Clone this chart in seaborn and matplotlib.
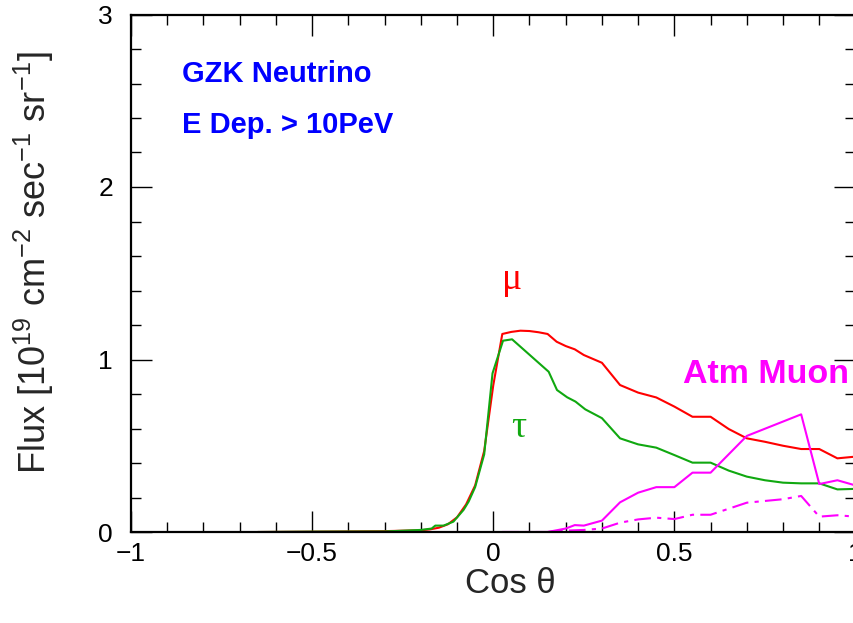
import numpy as np
import pandas as pd
import matplotlib
matplotlib.use("Agg")
import matplotlib.pyplot as plt
from matplotlib.ticker import MultipleLocator, FixedLocator, FixedFormatter
import seaborn as sns

# ---- data ----
mu_x = [-0.65, -0.5, -0.3, -0.2, -0.175, -0.15, -0.125, -0.1, -0.075, -0.05, -0.025, 0.0,
        0.025, 0.05, 0.075, 0.1, 0.125, 0.15, 0.175, 0.2, 0.225, 0.25, 0.3, 0.35, 0.4,
        0.45, 0.5, 0.55, 0.6, 0.65, 0.7, 0.75, 0.8, 0.85, 0.9, 0.95, 1.0]
mu_y = [0.0, 0.002, 0.005, 0.01, 0.015, 0.025, 0.045, 0.085, 0.16, 0.27, 0.47, 0.85,
        1.148, 1.16, 1.167, 1.165, 1.158, 1.148, 1.103, 1.078, 1.059, 1.026, 0.981, 0.852, 0.808,
        0.78, 0.727, 0.668, 0.668, 0.597, 0.543, 0.523, 0.50, 0.481, 0.481, 0.427, 0.437]

tau_x = [-0.65, -0.5, -0.3, -0.2, -0.17, -0.16, -0.137, -0.11, -0.082, -0.068, -0.05, -0.025,
         -0.002, 0.027, 0.052, 0.153, 0.176, 0.204, 0.227, 0.254, 0.3, 0.35, 0.4, 0.45, 0.5,
         0.55, 0.6, 0.65, 0.7, 0.75, 0.8, 0.85, 0.9, 0.95, 1.0]
tau_y = [0.0, 0.002, 0.003, 0.012, 0.02, 0.037, 0.037, 0.06, 0.128, 0.176, 0.26, 0.45,
         0.92, 1.109, 1.117, 0.929, 0.823, 0.781, 0.756, 0.711, 0.66, 0.543, 0.508, 0.489, 0.446,
         0.402, 0.402, 0.356, 0.321, 0.30, 0.286, 0.282, 0.282, 0.247, 0.25]

atm_x = [0.025, 0.15, 0.2, 0.225, 0.25, 0.3, 0.35, 0.4, 0.45, 0.5, 0.55, 0.6, 0.7, 0.85,
         0.9, 0.95, 1.0]
atm_y = [0.0, 0.0, 0.02, 0.04, 0.037, 0.066, 0.172, 0.228, 0.26, 0.26, 0.344, 0.344, 0.557, 0.682,
         0.278, 0.30, 0.27]

atm2_x = [0.025, 0.15, 0.2, 0.25, 0.3, 0.35, 0.4, 0.45, 0.5, 0.55, 0.6, 0.7, 0.75, 0.8, 0.85,
          0.9, 0.95, 1.0]
atm2_y = [0.0, 0.0, 0.008, 0.012, 0.02, 0.054, 0.073, 0.083, 0.075, 0.10, 0.10, 0.17, 0.18, 0.19,
          0.209, 0.089, 0.097, 0.089]

x_major = [-1, -0.5, 0, 0.5, 1]
x_labels = ["\u22121", "\u22120.5", "0", "0.5", "1"]
y_major = [0, 1, 2, 3]
y_labels = ["0", "1", "2", "3"]

# ---- style ----
sns.set_theme(style="ticks")
plt.rcParams["font.family"] = ["Liberation Sans", "DejaVu Sans"]
plt.rcParams["mathtext.fontset"] = "custom"
plt.rcParams["mathtext.rm"] = "Liberation Sans"
plt.rcParams["mathtext.it"] = "Liberation Sans:italic"
plt.rcParams["mathtext.bf"] = "Liberation Sans:bold"
plt.rcParams["xtick.labelsize"] = 19
plt.rcParams["ytick.labelsize"] = 19

RED = "#ff0000"
GREEN = "#10a810"
MAG = "#ff00ff"
BLUE = "#0000ff"

fig = plt.figure(figsize=(8.54, 6.23), dpi=100)
ax = fig.add_axes([131 / 854, 1 - 532 / 623, (855.5 - 131) / 854, (532 - 14.5) / 623])

df_mu = pd.DataFrame({"x": mu_x, "y": mu_y})
df_tau = pd.DataFrame({"x": tau_x, "y": tau_y})
df_atm = pd.DataFrame({"x": atm_x, "y": atm_y})
df_atm2 = pd.DataFrame({"x": atm2_x, "y": atm2_y})

sns.lineplot(data=df_mu, x="x", y="y", color=RED, lw=1.5, estimator=None, ax=ax)
sns.lineplot(data=df_tau, x="x", y="y", color=GREEN, lw=1.5, estimator=None, ax=ax)
sns.lineplot(data=df_atm, x="x", y="y", color=MAG, lw=1.5, estimator=None, ax=ax)
sns.lineplot(data=df_atm2, x="x", y="y", color=MAG, lw=1.5, estimator=None, ax=ax,
             linestyle=(0, (8, 3, 2, 3)))

ax.set_xlim(-1, 1)
ax.set_ylim(0, 3)

ax.xaxis.set_major_locator(FixedLocator(x_major))
ax.xaxis.set_major_formatter(FixedFormatter(x_labels))
ax.xaxis.set_minor_locator(MultipleLocator(0.1))
ax.yaxis.set_major_locator(FixedLocator(y_major))
ax.yaxis.set_major_formatter(FixedFormatter(y_labels))
ax.yaxis.set_minor_locator(MultipleLocator(0.2))

ax.tick_params(which="both", direction="in", top=True, right=True, colors="black")
ax.tick_params(which="major", length=15, width=1.0)
ax.tick_params(which="minor", length=7.5, width=1.0)
ax.tick_params(axis="x", which="major", pad=7, labelsize=19)
ax.tick_params(axis="y", which="major", pad=13, labelsize=19)

for s in ax.spines.values():
    s.set_color("black")
    s.set_linewidth(1.6)

ax.set_xlabel("Cos \u03b8", fontsize=25)
ax.set_ylabel("Flux [10$^{19}$ cm$^{-2}$ sec$^{-1}$ sr$^{-1}$]", fontsize=26)
ax.xaxis.set_label_coords(0.523, -0.068)
ax.yaxis.set_label_coords(-0.103, 0.521)

ax.text(-0.859, 2.609, "GZK Neutrino", color=BLUE, fontsize=21, fontweight="bold",
        ha="left", va="baseline")
ax.text(-0.859, 2.313, "E Dep. > 10PeV", color=BLUE, fontsize=21, fontweight="bold",
        ha="left", va="baseline")
ax.text(0.525, 0.864, "Atm Muon", color=MAG, fontsize=24.5, fontweight="bold",
        ha="left", va="baseline")
ax.text(0.052, 1.409, "\u03bc", color=RED, fontsize=27, family=["Liberation Serif", "DejaVu Serif"],
        ha="center", va="baseline")
ax.text(0.07, 0.551, "\u03c4", color=GREEN, fontsize=27, family=["Liberation Serif", "DejaVu Serif"],
        ha="center", va="baseline")

fig.savefig("out.png", dpi=100)
